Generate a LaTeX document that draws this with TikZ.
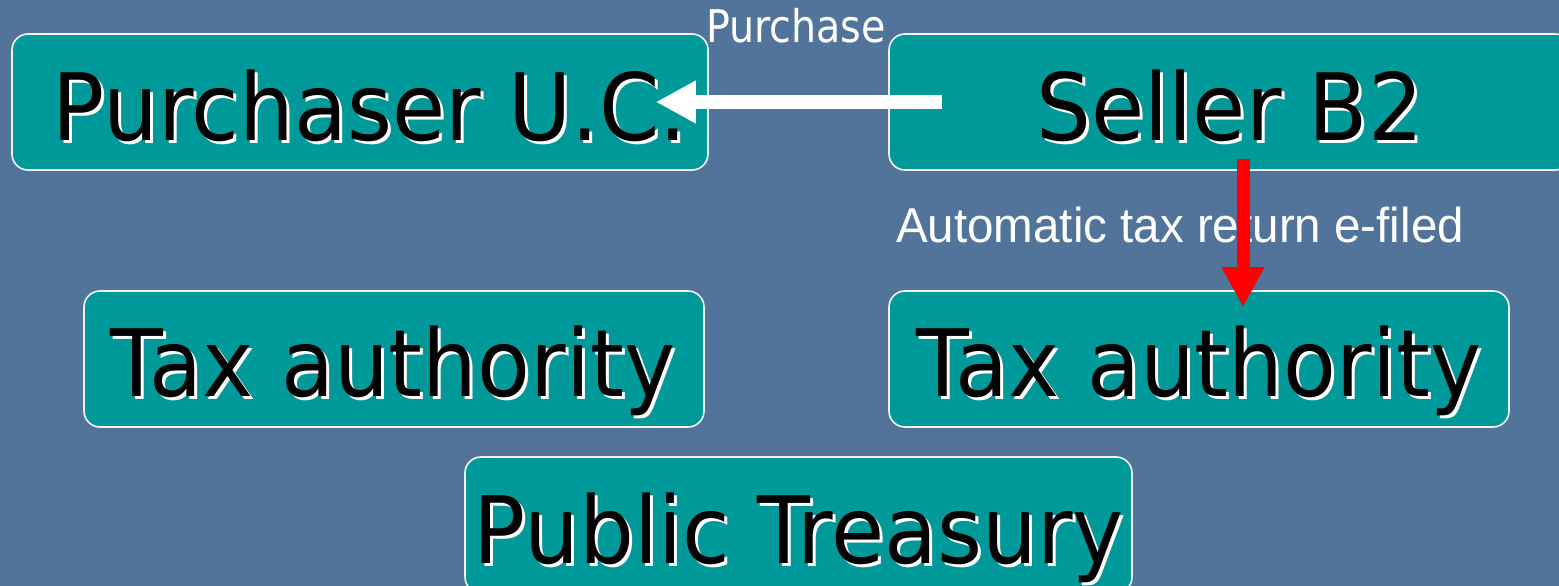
\documentclass[tikz,border=0pt]{standalone}
\usepackage{fontspec}
\usetikzlibrary{arrows.meta,calc}
\newfontfamily\boxfont[FakeStretch=0.93]{DejaVu Sans}
\newfontfamily\purfont[FakeStretch=0.88]{DejaVu Sans}
\newfontfamily\labfont[FakeStretch=0.97]{Liberation Sans}
\definecolor{bgblue}{RGB}{83,116,154}
\definecolor{tealbox}{RGB}{0,153,153}
\newcommand{\shtext}[1]{\makebox[0pt][l]{\kern3pt\raisebox{-3pt}{\color{white}#1}}#1}
\tikzset{
  box/.style={draw=white!90!gray, line width=1.6pt, fill=tealbox, rounded corners=16pt, inner sep=0pt, minimum height=136pt},
  boxtext/.style={anchor=base, inner sep=0pt, font=\boxfont\fontsize{93}{100}\selectfont, text=black},
  labtext/.style={anchor=base, inner sep=0pt, font=\labfont\fontsize{49}{52}\selectfont, text=white},
  whitearrow/.style={draw=white, line width=13pt, -{Triangle[width=40pt,length=40pt]}},
  redarrow/.style={draw=red, line width=13pt, -{Triangle[width=40pt,length=40pt]}}
}
\begin{document}
\begin{tikzpicture}[x=1pt,y=-1pt]
\fill[bgblue] (0,0) rectangle (1559,586);
\useasboundingbox (0,0) rectangle (1559,586);
% boxes
\node[box, minimum width=696pt] (pur) at (360,102) {};
\node[box, minimum width=682pt] (sel) at (1230,102) {};
\node[box, minimum width=620pt] (taxl) at (394,359) {};
\node[box, minimum width=620pt] (taxr) at (1199,359) {};
\node[box, minimum width=667pt] (pub) at (798.5,525) {};
% box texts
\node[boxtext] (purT) at (370,140) {\shtext{Purchaser U.C.}};
\node[boxtext] (selT) at (1230,140) {\shtext{Seller B2}};
\node[boxtext] (taxlT) at (393,396) {\shtext{Tax authority}};
\node[boxtext] (taxrT) at (1199,396) {\shtext{Tax authority}};
\node[boxtext] (pubT) at (799,563) {\shtext{Public Treasury}};
% labels
\node[anchor=base, inner sep=0pt, font=\purfont\fontsize{45}{48}\selectfont, text=white] (purL) at (796,43) {Purchase};
\node[labtext] (autoL) at (1180,242) {Automatic tax return e-filed};
% connectors
\coordinate (a1s) at ($(sel.west)+(54,0)$);
\coordinate (a1e) at ($(pur.east)+(-53,0)$);
\draw[whitearrow] (a1s) -- (a1e);
\coordinate (a2s) at ($(sel.south)+(13,-12)$);
\coordinate (a2e) at ($(taxr.north)+(44,17)$);
\draw[redarrow] (a2s) -- (a2e);
\end{tikzpicture}
\end{document}
